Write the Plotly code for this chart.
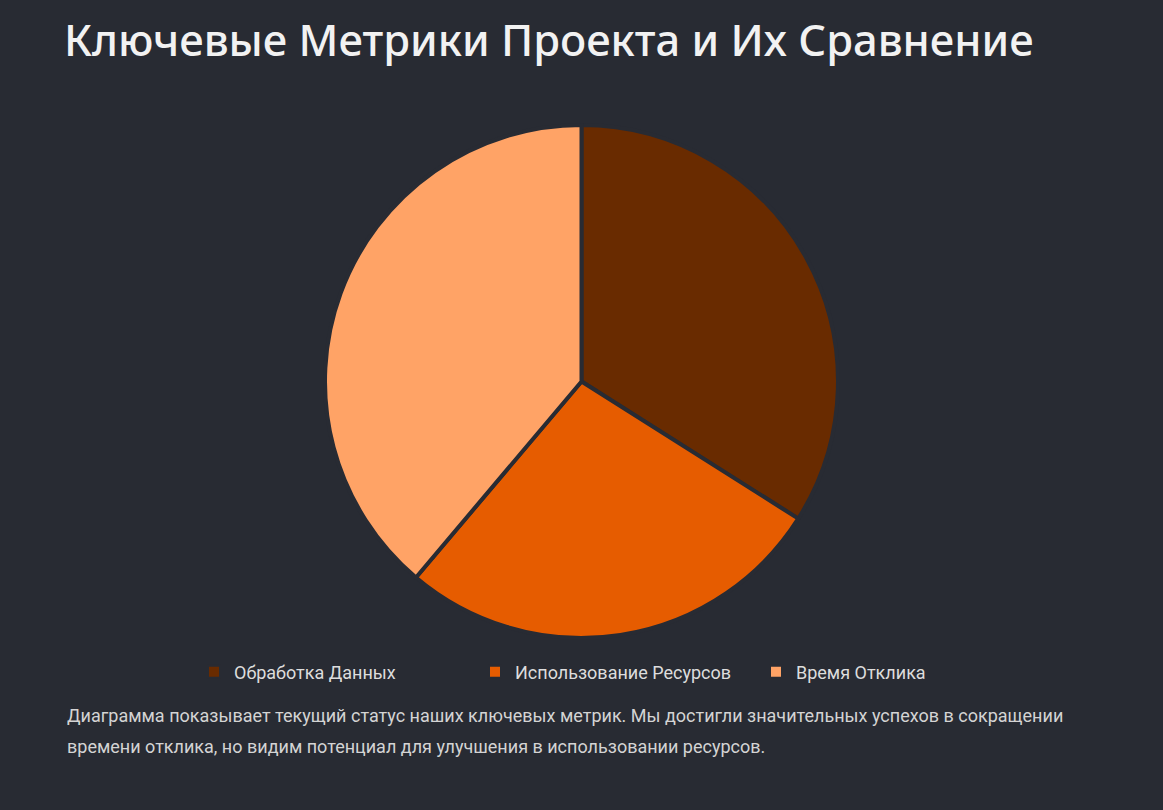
import plotly.graph_objects as go

labels = ["Обработка Данных", "Использование Ресурсов", "Время Отклика"]
values = [35, 28, 40]
colors = ["#692b00", "#e65c00", "#ffa366"]

title_text = "Ключевые Метрики Проекта и Их Сравнение"
note_lines = [
    "Диаграмма показывает текущий статус наших ключевых метрик. Мы достигли значительных успехов в сокращении",
    "времени отклика, но видим потенциал для улучшения в использовании ресурсов.",
]

BG = "#282b33"
W, H = 1163, 810
ML, MR, MT, MB = 65, 65, 125, 172
PH = H - MT - MB
PW = W - ML - MR

fig = go.Figure(go.Pie(
    labels=labels,
    values=values,
    sort=False,
    direction="clockwise",
    rotation=0,
    marker=dict(colors=colors, line=dict(color=BG, width=4)),
    textinfo="none",
    hoverinfo="label+value+percent",
))

fig.update_layout(
    width=W, height=H,
    paper_bgcolor=BG, plot_bgcolor=BG,
    margin=dict(l=ML, r=MR, t=MT, b=MB),
    title=dict(
        text=title_text,
        x=64 / W, xanchor="left", xref="container",
        y=1 - 41 / H, yanchor="middle", yref="container",
        font=dict(family="Noto Sans", size=43.5, color="#f2f2f2", weight=500),
    ),
    showlegend=True,
    legend=dict(
        orientation="h",
        x=(194 - ML) / PW, xanchor="left",
        y=-(672 - (H - MB)) / PH, yanchor="middle",
        font=dict(family="Roboto", size=18, color="#dddddd"),
        itemsizing="constant",
        entrywidthmode="pixels",
        entrywidth=236,
        traceorder="normal",
    ),
)

for i, line in enumerate(note_lines):
    fig.add_annotation(
        text=line, xref="paper", yref="paper",
        x=0, xanchor="left",
        y=-(716 + 30 * i - (H - MB)) / PH, yanchor="middle",
        showarrow=False, align="left",
        font=dict(family="Roboto", size=18, color="#d4d4d4"),
    )

fig.write_html(
    "out.html",
    config={"displayModeBar": False},
    post_script="document.body.style.margin='0';document.body.style.background='" + BG + "';",
)
